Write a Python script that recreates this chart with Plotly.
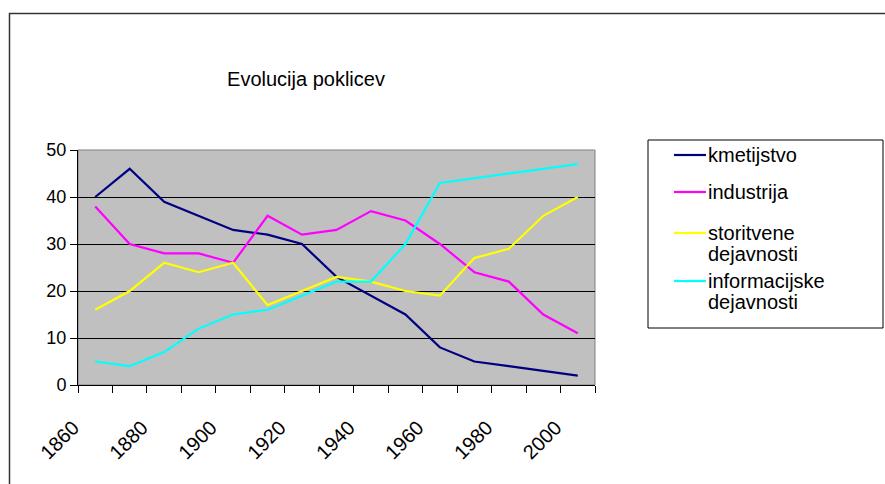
import plotly.graph_objects as go

# Share of workforce by sector (%), one value per decade
years = [1860, 1870, 1880, 1890, 1900, 1910, 1920, 1930, 1940, 1950, 1960, 1970, 1980, 1990, 2000]
kmetijstvo = [40, 46, 39, 36, 33, 32, 30, 23, 19, 15, 8, 5, 4, 3, 2]
industrija = [38, 30, 28, 28, 26, 36, 32, 33, 37, 35, 30, 24, 22, 15, 11]
storitvene = [16, 20, 26, 24, 26, 17, 20, 23, 22, 20, 19, 27, 29, 36, 40]
informacijske = [5, 4, 7, 12, 15, 16, 19, 22, 22, 30, 43, 44, 45, 46, 47]

series_names = ["kmetijstvo", "industrija", "storitvene dejavnosti", "informacijske dejavnosti"]
legend_lines = [["kmetijstvo"], ["industrija"], ["storitvene", "dejavnosti"], ["informacijske", "dejavnosti"]]
series_values = [kmetijstvo, industrija, storitvene, informacijske]
series_colors = ["#000080", "#FF00FF", "#FFFF00", "#00FFFF"]

year_labels = [1860, 1880, 1900, 1920, 1940, 1960, 1980, 2000]
y_ticks = [0, 10, 20, 30, 40, 50]

FONT = "Liberation Sans, Arial, sans-serif"
W, H = 885, 484
L, R, T, B = 78, 290, 150, 99
PW, PH = W - L - R, H - T - B


def px_x(px):
    return (px - L) / PW


def px_y(py):
    return (H - B - py) / PH


fig = go.Figure()
for name, vals, col in zip(series_names, series_values, series_colors):
    fig.add_trace(go.Scatter(x=years, y=vals, mode="lines", name=name,
                             line=dict(color=col, width=2.2), showlegend=False))

shapes = []
annotations = []

# outer chart frame
shapes.append(dict(type="rect", xref="paper", yref="paper",
                   x0=px_x(9.5), x1=px_x(895), y0=px_y(495), y1=px_y(13.5),
                   line=dict(color="#333333", width=1.5), layer="below"))
# plot area frame (top/right)
shapes.append(dict(type="rect", xref="paper", yref="paper",
                   x0=0, x1=1, y0=0, y1=1,
                   line=dict(color="#808080", width=1), layer="below"))

# legend box with key lines and labels
LEG_L, LEG_R, LEG_T, LEG_B = 648, 883, 140, 328
shapes.append(dict(type="rect", xref="paper", yref="paper",
                   x0=px_x(LEG_L), x1=px_x(LEG_R), y0=px_y(LEG_B), y1=px_y(LEG_T),
                   line=dict(color="#000000", width=1), fillcolor="white"))
leg_rows = [155, 192, 233, 281]
LINE_GAP = 21
for lines, col, yy in zip(legend_lines, series_colors, leg_rows):
    shapes.append(dict(type="line", xref="paper", yref="paper",
                       x0=px_x(674), x1=px_x(706), y0=px_y(yy), y1=px_y(yy),
                       line=dict(color=col, width=2.2)))
    for k, txt in enumerate(lines):
        annotations.append(dict(xref="paper", yref="paper", x=px_x(706),
                                y=px_y(yy + k * LINE_GAP),
                                xanchor="left", yanchor="middle", align="left",
                                text=txt, showarrow=False,
                                font=dict(family=FONT, size=20, color="black")))

fig.update_layout(
    width=W, height=H,
    margin=dict(l=L, r=R, t=T, b=B, autoexpand=False),
    paper_bgcolor="white",
    plot_bgcolor="#C0C0C0",
    font=dict(family=FONT, size=18, color="black"),
    title=dict(text="Evolucija poklicev", x=306 / W, xanchor="center",
               y=1 - 79 / H, yanchor="middle", yref="container",
               font=dict(family=FONT, size=20, color="black")),
    showlegend=False,
    shapes=shapes,
    annotations=annotations,
)

fig.update_xaxes(
    range=[1855, 2005], tickmode="array", tickvals=year_labels,
    ticktext=[str(v) for v in year_labels], tickangle=-45, ticks="",
    ticklabelstandoff=22, ticklabelshift=-22,
    showgrid=False, zeroline=False,
    showline=True, linecolor="black", linewidth=1,
    minor=dict(tickmode="linear", tick0=1855, dtick=10, ticks="outside",
               ticklen=7, tickcolor="black", tickwidth=1, showgrid=False),
    tickfont=dict(family=FONT, size=20, color="black"),
)
fig.update_yaxes(
    range=[0, 50], tickvals=y_ticks, ticks="outside", ticklen=7,
    tickcolor="black", showgrid=True, gridcolor="black", gridwidth=1,
    zeroline=False, showline=True, linecolor="black", linewidth=1,
    tickfont=dict(family=FONT, size=18, color="black"),
)

fig.write_html("out.html")
